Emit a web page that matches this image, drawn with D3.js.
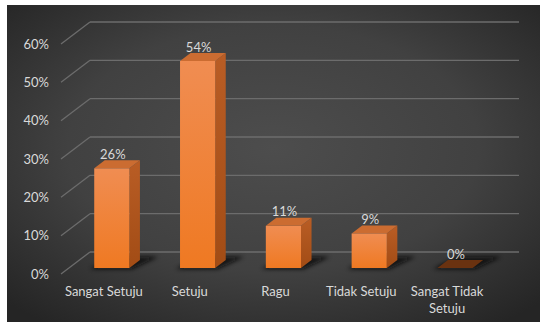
<!DOCTYPE html>
<html>
<head>
<meta charset="utf-8">
<script src="https://cdn.jsdelivr.net/npm/d3@7"></script>
<style>
  html, body { margin: 0; padding: 0; background: #ffffff; }
  svg { display: block; }
  text { font-family: Lato, "Open Sans", sans-serif; fill: #d9d9d9; }
</style>
</head>
<body>
<svg id="chart" width="540" height="322"></svg>
<script>
// Survey response shares
const categories = ["Sangat Setuju", "Setuju", "Ragu", "Tidak Setuju", "Sangat Tidak Setuju"];
const categoryLines = [["Sangat Setuju"], ["Setuju"], ["Ragu"], ["Tidak Setuju"], ["Sangat Tidak", "Setuju"]];
const values = [0.26, 0.54, 0.11, 0.09, 0.00];
const valueLabels = ["26%", "54%", "11%", "9%", "0%"];
const tickValues = [0, 0.1, 0.2, 0.3, 0.4, 0.5, 0.6];

const svg = d3.select("#chart");
const fontSize = 13;

// Oblique 3D projection: depth shifts points left and down
const floorDX = -29, floorDY = 22;          // full floor depth
const frontZ = 0.727, backZ = 0.364;        // bar faces as fraction of floor depth
const shift = z => [floorDX * z, floorDY * z];

const y = d3.scaleLinear().domain([0, 0.6]).range([252, 22]);
const x = d3.scaleBand().domain(categories).range([90, 519])
  .paddingInner(0.59).paddingOuter(0.295);

const defs = svg.append("defs");
const bg = defs.append("radialGradient").attr("id", "bg")
  .attr("cx", "50%").attr("cy", "45%").attr("r", "70%");
bg.append("stop").attr("offset", "0%").attr("stop-color", "#4d4d4d");
bg.append("stop").attr("offset", "55%").attr("stop-color", "#414141");
bg.append("stop").attr("offset", "100%").attr("stop-color", "#252525");

const front = defs.append("linearGradient").attr("id", "front")
  .attr("x1", 0).attr("y1", 0).attr("x2", 0).attr("y2", 1);
front.append("stop").attr("offset", "0%").attr("stop-color", "#f08d52");
front.append("stop").attr("offset", "100%").attr("stop-color", "#ef7922");

const side = defs.append("linearGradient").attr("id", "side")
  .attr("x1", 0).attr("y1", 0).attr("x2", 0).attr("y2", 1);
side.append("stop").attr("offset", "0%").attr("stop-color", "#b95d25");
side.append("stop").attr("offset", "100%").attr("stop-color", "#a24c15");

defs.append("filter").attr("id", "soft").attr("x", "-50%").attr("y", "-50%")
  .attr("width", "200%").attr("height", "200%")
  .append("feGaussianBlur").attr("stdDeviation", 2.2);

// Chart area
svg.append("rect").attr("x", 7).attr("y", 5).attr("width", 533).attr("height", 317)
  .attr("fill", "url(#bg)");

// Back-wall gridlines and their receding side-wall edges
const grid = svg.append("g").attr("stroke", "#6c6c6c").attr("stroke-width", 1.3).attr("fill", "none");
tickValues.forEach(t => {
  grid.append("line").attr("x1", 90).attr("x2", 519).attr("y1", y(t)).attr("y2", y(t));
  grid.append("line").attr("x1", 90 + floorDX).attr("y1", y(t) + floorDY)
    .attr("x2", 90).attr("y2", y(t));
});

// Tick labels on the front edge
svg.append("g").selectAll("text").data(tickValues).join("text")
  .attr("x", 49).attr("y", t => y(t) + floorDY + 4.5)
  .attr("text-anchor", "end").attr("font-size", fontSize)
  .text(d3.format(".0%"));

const pt = (cx, v, z) => { const [dx, dy] = shift(z); return [cx + dx, y(v) + dy]; };

const bars = svg.append("g");
categories.forEach((c, i) => {
  const v = values[i];
  const l = x(c), r = x(c) + x.bandwidth();
  const g = bars.append("g");

  // Floor shadow, cast toward the back right
  const s = [pt(l - 3, 0, frontZ + 0.05), pt(r + 4, 0, frontZ + 0.05),
             pt(r + 14, 0, backZ - 0.15), pt(l + 6, 0, backZ - 0.15)];
  g.append("polygon").attr("points", s.map(p => p.join(",")).join(" "))
    .attr("fill", "#080808").attr("opacity", 0.85).attr("filter", "url(#soft)");

  if (v === 0) {
    const f = [pt(l, 0, frontZ), pt(r, 0, frontZ), pt(r, 0, backZ), pt(l, 0, backZ)];
    g.append("polygon").attr("points", f.map(p => p.join(",")).join(" "))
      .attr("fill", "#6a3210");
    return;
  }

  const topFace = [pt(l, v, frontZ), pt(r, v, frontZ), pt(r, v, backZ), pt(l, v, backZ)];
  const sideFace = [pt(r, v, frontZ), pt(r, v, backZ), pt(r, 0, backZ), pt(r, 0, frontZ)];
  const [fx, fy] = pt(l, v, frontZ);
  const [, fb] = pt(l, 0, frontZ);

  g.append("polygon").attr("points", sideFace.map(p => p.join(",")).join(" "))
    .attr("fill", "url(#side)");
  g.append("polygon").attr("points", topFace.map(p => p.join(",")).join(" "))
    .attr("fill", "#cb6c31");
  g.append("rect").attr("x", fx).attr("y", fy)
    .attr("width", x.bandwidth()).attr("height", fb - fy)
    .attr("fill", "url(#front)");
});

// Value labels above each bar
svg.append("g").selectAll("text").data(categories).join("text")
  .attr("x", (c, i) => pt(x(c) + x.bandwidth() / 2, values[i], frontZ)[0] + 1)
  .attr("y", (c, i) => pt(0, values[i], backZ)[1] - 1.5)
  .attr("text-anchor", "middle").attr("font-size", fontSize)
  .text((c, i) => valueLabels[i]);

// Category labels along the front floor edge
const cat = svg.append("g");
categories.forEach((c, i) => {
  const cx = x(c) + x.bandwidth() / 2 + floorDX;
  const t = cat.append("text").attr("text-anchor", "middle").attr("font-size", fontSize);
  categoryLines[i].forEach((line, k) => {
    t.append("tspan").attr("x", cx).attr("y", 295.5 + k * 17).text(line);
  });
});
</script>
</body>
</html>
